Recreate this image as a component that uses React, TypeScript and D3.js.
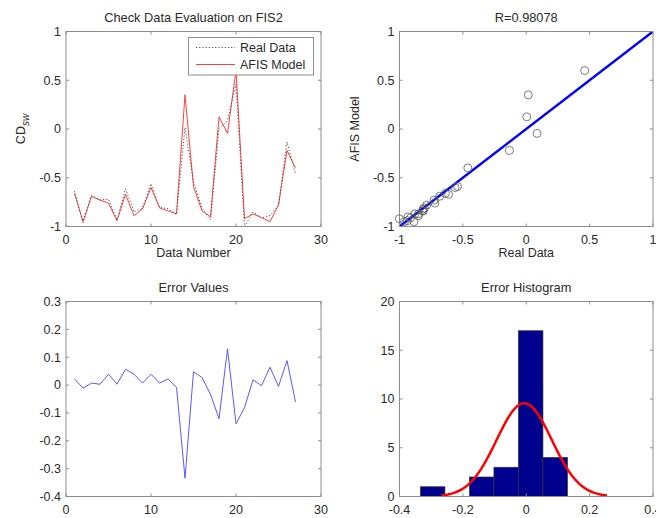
import React from 'react';
import * as d3 from 'd3';

// ---------- data ----------
const dataNumber = [1, 2, 3, 4, 5, 6, 7, 8, 9, 10, 11, 12, 13, 14, 15, 16, 17, 18, 19, 20, 21, 22, 23, 24, 25, 26, 27];
const realData = [-0.638, -0.961, -0.683, -0.727, -0.721, -0.937, -0.613, -0.851, -0.813, -0.561, -0.803, -0.818, -0.878, 0.016, -0.542, -0.813, -0.933, 0.004, 0.085, 0.461, -1.001, -0.851, -0.912, -0.886, -0.785, -0.132, -0.461];
const afisModel = [-0.66, -0.95, -0.69, -0.73, -0.76, -0.94, -0.67, -0.89, -0.82, -0.6, -0.81, -0.84, -0.87, 0.35, -0.59, -0.84, -0.9, 0.125, -0.045, 0.6, -0.92, -0.87, -0.91, -0.95, -0.78, -0.22, -0.4];
const errorValues = [0.022, -0.011, 0.007, 0.003, 0.039, 0.003, 0.057, 0.039, 0.007, 0.039, 0.007, 0.022, -0.008, -0.334, 0.048, 0.027, -0.033, -0.121, 0.13, -0.139, -0.081, 0.019, -0.002, 0.064, -0.005, 0.088, -0.061];
const histBinCount = 6;
const fitLineX = [-1, 1];
const rTitle = 'R=0.98078';

const ticksDataNumber = [0, 10, 20, 30];
const ticksUnit = [-1, -0.5, 0, 0.5, 1];
const ticksError = [-0.4, -0.3, -0.2, -0.1, 0, 0.1, 0.2, 0.3];
const ticksHistX = [-0.4, -0.2, 0, 0.2, 0.4];
const ticksHistY = [0, 5, 10, 15, 20];

// ---------- style ----------
const FONT = '"Liberation Sans", Arial, Helvetica, sans-serif';
const TEXT = '#2a2a2a';
const BOX = '#8c8c8c';
const TICK = 3;
const RED = '#ff4040';
const DOT = '#505050';

const fmt = (t: number) => String(+t.toFixed(2));

type Box = { x0: number; x1: number; y0: number; y1: number };

function Panel(props: {
  id: string;
  box: Box;
  xDomain: [number, number];
  yDomain: [number, number];
  xTicks: number[];
  yTicks: number[];
  title: string;
  xLabel?: React.ReactNode;
  yLabel?: React.ReactNode;
  children: (x: d3.ScaleLinear<number, number>, y: d3.ScaleLinear<number, number>) => React.ReactNode;
}) {
  const { id, box, xDomain, yDomain, xTicks, yTicks, title, xLabel, yLabel, children } = props;
  const x = d3.scaleLinear().domain(xDomain).range([box.x0, box.x1]);
  const y = d3.scaleLinear().domain(yDomain).range([box.y1, box.y0]);
  const cx = (box.x0 + box.x1) / 2;
  const cy = (box.y0 + box.y1) / 2;
  return (
    <g>
      <defs>
        <clipPath id={id}>
          <rect x={box.x0} y={box.y0} width={box.x1 - box.x0} height={box.y1 - box.y0} />
        </clipPath>
      </defs>
      <rect x={box.x0} y={box.y0} width={box.x1 - box.x0} height={box.y1 - box.y0} fill="#fff" />
      <g clipPath={`url(#${id})`}>{children(x, y)}</g>
      <rect x={box.x0} y={box.y0} width={box.x1 - box.x0} height={box.y1 - box.y0} fill="none" stroke={BOX} strokeWidth={1} />
      {xTicks.map((t) => (
        <g key={'xt' + t}>
          <line x1={x(t)} x2={x(t)} y1={box.y1} y2={box.y1 - TICK} stroke={BOX} />
          <line x1={x(t)} x2={x(t)} y1={box.y0} y2={box.y0 + TICK} stroke={BOX} />
          <text x={x(t)} y={box.y1 + 17} textAnchor="middle" fontSize={12.5} fill={TEXT}>{fmt(t)}</text>
        </g>
      ))}
      {yTicks.map((t) => (
        <g key={'yt' + t}>
          <line x1={box.x0} x2={box.x0 + TICK} y1={y(t)} y2={y(t)} stroke={BOX} />
          <line x1={box.x1} x2={box.x1 - TICK} y1={y(t)} y2={y(t)} stroke={BOX} />
          <text x={box.x0 - 5} y={y(t)} dy="0.35em" textAnchor="end" fontSize={12.5} fill={TEXT}>{fmt(t)}</text>
        </g>
      ))}
      <text x={cx} y={box.y0 - 10} textAnchor="middle" fontSize={12.8} fill={TEXT}>{title}</text>
      {xLabel && (
        <text x={cx} y={box.y1 + 30.5} textAnchor="middle" fontSize={12.5} fill={TEXT}>{xLabel}</text>
      )}
      {yLabel && (
        <text transform={`translate(${box.x0 - 41},${cy}) rotate(-90)`} textAnchor="middle" fontSize={12.5} fill={TEXT}>{yLabel}</text>
      )}
    </g>
  );
}

export default function App() {
  const TL: Box = { x0: 66, x1: 321, y0: 31.5, y1: 226.5 };
  const TR: Box = { x0: 399.5, x1: 653, y0: 31.5, y1: 226.5 };
  const BL: Box = { x0: 66, x1: 321, y0: 301.5, y1: 496.5 };
  const BR: Box = { x0: 399.5, x1: 653, y0: 301.5, y1: 496.5 };

  // histogram (histfit-like)
  const eMin = d3.min(errorValues) as number;
  const eMax = d3.max(errorValues) as number;
  const binW = (eMax - eMin) / histBinCount;
  const counts = new Array(histBinCount).fill(0);
  errorValues.forEach((v) => {
    const i = Math.min(histBinCount - 1, Math.floor((v - eMin) / binW + 1e-9));
    counts[i] += 1;
  });
  const bins = counts.map((c, i) => ({ x0: eMin + i * binW, x1: eMin + (i + 1) * binW, count: c }));
  const mu = d3.mean(errorValues) as number;
  const sigma = d3.deviation(errorValues) as number;
  const n = errorValues.length;
  const curveX = d3.range(0, 101).map((i) => mu - 3 * sigma + (6 * sigma * i) / 100);
  const curve = curveX.map((v) => [v, (n * binW * Math.exp(-((v - mu) ** 2) / (2 * sigma * sigma))) / (sigma * Math.sqrt(2 * Math.PI))]);

  return (
    <svg width={656} height={518} style={{ position: 'absolute', left: 0, top: 0, background: '#fff' }} fontFamily={FONT}>
      <rect width={656} height={518} fill="#fff" />

      {/* Top-left */}
      <Panel
        id="c1" box={TL} xDomain={[0, 30]} yDomain={[-1, 1]}
        xTicks={ticksDataNumber} yTicks={ticksUnit}
        title="Check Data Evaluation on FIS2"
        xLabel="Data Number"
        yLabel={<>CD<tspan dy={4} fontSize={10} fontStyle="italic">sw</tspan></>}
      >
        {(x, y) => {
          const line = d3.line<number>().x((_, i) => x(dataNumber[i])).y((d) => y(d));
          return (
            <>
              <path d={line(afisModel) || ''} fill="none" stroke={RED} strokeWidth={1} />
              <path d={line(realData) || ''} fill="none" stroke={DOT} strokeWidth={1} strokeDasharray="1.2 2" />
            </>
          );
        }}
      </Panel>
      {/* legend */}
      <g>
        <rect x={188.5} y={37.5} width={125} height={37.5} fill="#fff" stroke={BOX} />
        <line x1={196} x2={235} y1={47.5} y2={47.5} stroke={DOT} strokeDasharray="1.2 2" />
        <text x={240} y={47.5} dy="0.35em" fontSize={12.5} fill={TEXT}>Real Data</text>
        <line x1={196} x2={235} y1={64.5} y2={64.5} stroke={RED} />
        <text x={240} y={64.5} dy="0.35em" fontSize={12.5} fill={TEXT}>AFIS Model</text>
      </g>

      {/* Top-right */}
      <Panel
        id="c2" box={TR} xDomain={[-1, 1]} yDomain={[-1, 1]}
        xTicks={ticksUnit} yTicks={ticksUnit}
        title={rTitle} xLabel="Real Data" yLabel="AFIS Model"
      >
        {(x, y) => (
          <>
            <line x1={x(fitLineX[0])} y1={y(fitLineX[0])} x2={x(fitLineX[1])} y2={y(fitLineX[1])} stroke="#0000ff" strokeWidth={2.5} />
          </>
        )}
      </Panel>
      {(() => {
        const x = d3.scaleLinear().domain([-1, 1]).range([TR.x0, TR.x1]);
        const y = d3.scaleLinear().domain([-1, 1]).range([TR.y1, TR.y0]);
        return realData.map((r, i) => (
          <circle key={i} cx={x(r)} cy={y(afisModel[i])} r={4} fill="none" stroke="#5a5a5a" strokeWidth={0.8} />
        ));
      })()}

      {/* Bottom-left */}
      <Panel
        id="c3" box={BL} xDomain={[0, 30]} yDomain={[-0.4, 0.3]}
        xTicks={ticksDataNumber} yTicks={ticksError}
        title="Error Values"
      >
        {(x, y) => {
          const line = d3.line<number>().x((_, i) => x(dataNumber[i])).y((d) => y(d));
          return <path d={line(errorValues) || ''} fill="none" stroke="#4646ff" strokeWidth={0.9} />;
        }}
      </Panel>

      {/* Bottom-right */}
      <Panel
        id="c4" box={BR} xDomain={[-0.4, 0.4]} yDomain={[0, 20]}
        xTicks={ticksHistX} yTicks={ticksHistY}
        title="Error Histogram"
      >
        {(x, y) => {
          const line = d3.line<number[]>().x((d) => x(d[0])).y((d) => y(d[1])).curve(d3.curveLinear);
          return (
            <>
              {bins.map((b, i) =>
                b.count > 0 ? (
                  <rect key={i} x={x(b.x0)} y={y(b.count)} width={x(b.x1) - x(b.x0)} height={y(0) - y(b.count)} fill="#00008f" stroke="#333" strokeWidth={0.7} />
                ) : null
              )}
              <path d={line(curve) || ''} fill="none" stroke="#ff0000" strokeWidth={2.5} />
            </>
          );
        }}
      </Panel>
    </svg>
  );
}
